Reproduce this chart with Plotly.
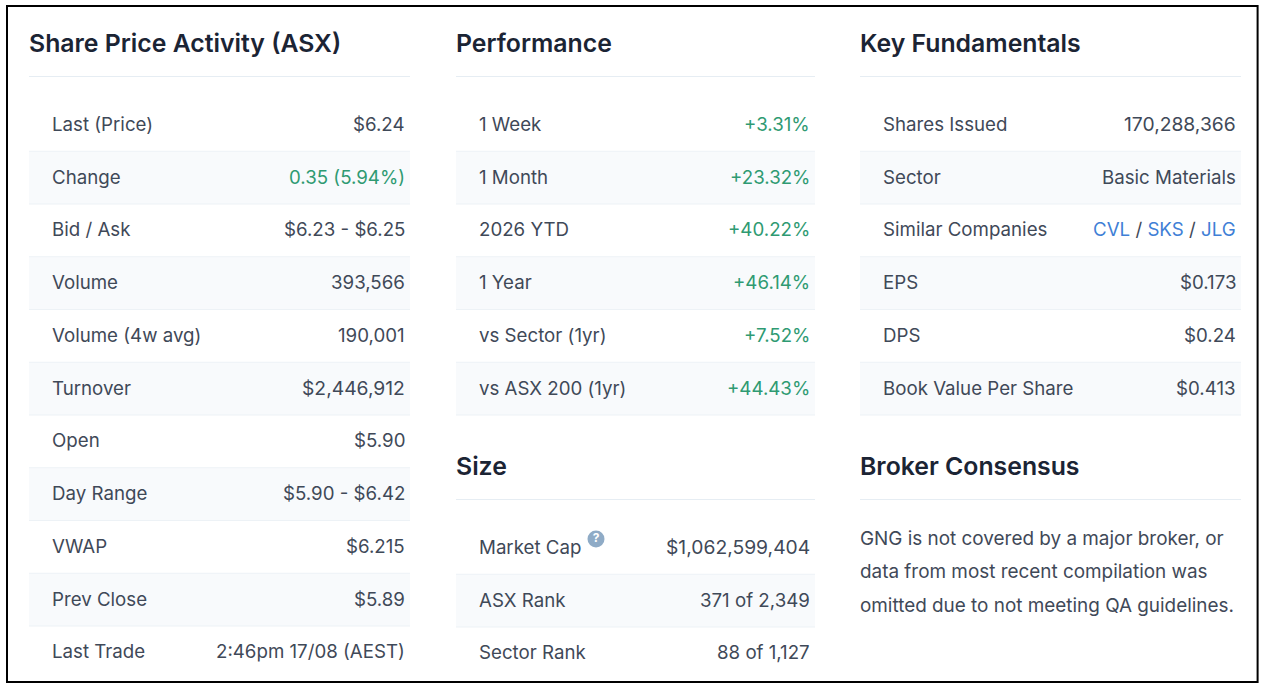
import plotly.graph_objects as go

# ---- data ----
activity_labels = ["Last (Price)", "Change", "Bid / Ask", "Volume", "Volume (4w avg)", "Turnover",
                   "Open", "Day Range", "VWAP", "Prev Close", "Last Trade"]
activity_values = ["$6.24", "0.35 (5.94%)", "$6.23 - $6.25", "393,566", "190,001", "$2,446,912",
                   "$5.90", "$5.90 - $6.42", "$6.215", "$5.89", "2:46pm 17/08 (AEST)"]
performance_labels = ["1 Week", "1 Month", "2026 YTD", "1 Year", "vs Sector (1yr)", "vs ASX 200 (1yr)"]
performance_values = ["+3.31%", "+23.32%", "+40.22%", "+46.14%", "+7.52%", "+44.43%"]
size_labels = ["Market Cap", "ASX Rank", "Sector Rank"]
size_values = ["$1,062,599,404", "371 of 2,349", "88 of 1,127"]
fund_labels = ["Shares Issued", "Sector", "Similar Companies", "EPS", "DPS", "Book Value Per Share"]
similar = ["CVL", "SKS", "JLG"]
fund_values = ["170,288,366", "Basic Materials", None, "$0.173", "$0.24", "$0.413"]
broker_lines = ["GNG is not covered by a major broker, or",
                "data from most recent compilation was",
                "omitted due to not meeting QA guidelines."]

FONT = "Inter"
INK = "#1b2434"
BODY = "#3f4958"
GREEN = "#2f9a72"
BLUE = "#3f7fd6"
HLINE = "#e6edf3"
LINE = "#edf2f6"
STRIPE = "#f8fafc"

W, H = 1264, 688
RSTEP = 52.75
BODY_SIZE = 18.7

ann, shapes = [], []

def text(x, y, s, anchor="left", size=BODY_SIZE, color=BODY, weight=400):
    ann.append(dict(x=x, y=y, xref="x", yref="y", text=s, showarrow=False, xanchor=anchor,
                    yanchor="middle", borderpad=0, borderwidth=0,
                    font=dict(family=FONT, size=size, color=color, weight=weight)))

def line(x0, x1, y, color=LINE):
    shapes.append(dict(type="line", xref="x", yref="y", x0=x0, x1=x1, y0=y, y1=y,
                       line=dict(color=color, width=1), layer="below"))

def header(x0, x1, y, s):
    text(x0, y, s, size=24.8, color=INK, weight=600)
    line(x0, x1, y + 33.5, HLINE)

def value_size(v):
    # long comma-grouped figures run slightly wider in the reference
    return 19.3 if v.count(",") >= 2 else BODY_SIZE

def table(x0, x1, ytop, labels, values, colors=None, vright=4.6):
    for i, (lab, val) in enumerate(zip(labels, values)):
        top = ytop + i * RSTEP
        if i % 2 == 1:
            shapes.append(dict(type="rect", xref="x", yref="y", x0=x0, x1=x1, y0=top, y1=top + RSTEP,
                               fillcolor=STRIPE, line=dict(width=0), layer="below"))
        if i:
            line(x0, x1, top)
        text(x0 + 22.6, top + 25.8, lab)
        if val is not None:
            c = colors[i] if colors else BODY
            text(x1 - vright, top + 25.8, val, anchor="right", color=c, size=value_size(val))
    return ytop + len(labels) * RSTEP

# Column 1
header(29, 410, 43, "Share Price Activity (ASX)")
table(29, 410, 98.5, activity_labels, activity_values,
      [GREEN if i == 1 else BODY for i in range(len(activity_labels))])

# Column 2
header(456, 815, 43, "Performance")
end = table(456, 815, 98.5, performance_labels, performance_values, [GREEN] * 6)
line(456, 815, end)
header(456, 815, 466, "Size")
table(456, 815, 521.5, size_labels, size_values, vright=5.4)

# Column 3
header(860, 1241, 43, "Key Fundamentals")
end = table(860, 1241, 98.5, fund_labels, fund_values)
line(860, 1241, end)
sep = f'<span style="color:{BODY}"> / </span>'
links = sep.join(f'<span style="color:{BLUE}">{s}</span>' for s in similar)
text(1236.4, 229.8, links, anchor="right", color=BLUE)
header(860, 1241, 466, "Broker Consensus")
for i, s in enumerate(broker_lines):
    text(860, 538 + i * 33.9, s, size=18.9)

# Frame
shapes.append(dict(type="rect", xref="x", yref="y", x0=7, x1=1257.6, y0=6, y1=682,
                   line=dict(color="#000000", width=2), layer="above"))

# Help icon next to Market Cap
fig = go.Figure(go.Scatter(x=[596], y=[539], mode="markers+text", text=["?"],
                           textposition="middle center",
                           textfont=dict(family=FONT, size=12, color="#ffffff", weight=700),
                           marker=dict(size=17, color="#8fabc6", line=dict(width=0)),
                           hoverinfo="skip", showlegend=False))
fig.update_layout(width=W, height=H, margin=dict(l=0, r=0, t=0, b=0),
                  paper_bgcolor="#ffffff", plot_bgcolor="#ffffff",
                  xaxis=dict(range=[0, W], visible=False, fixedrange=True),
                  yaxis=dict(range=[H, 0], visible=False, fixedrange=True),
                  annotations=ann, shapes=shapes, showlegend=False)
fig.write_html("out.html", config={"displayModeBar": False},
               post_script="document.body.style.margin='0';document.body.style.overflow='hidden';")
